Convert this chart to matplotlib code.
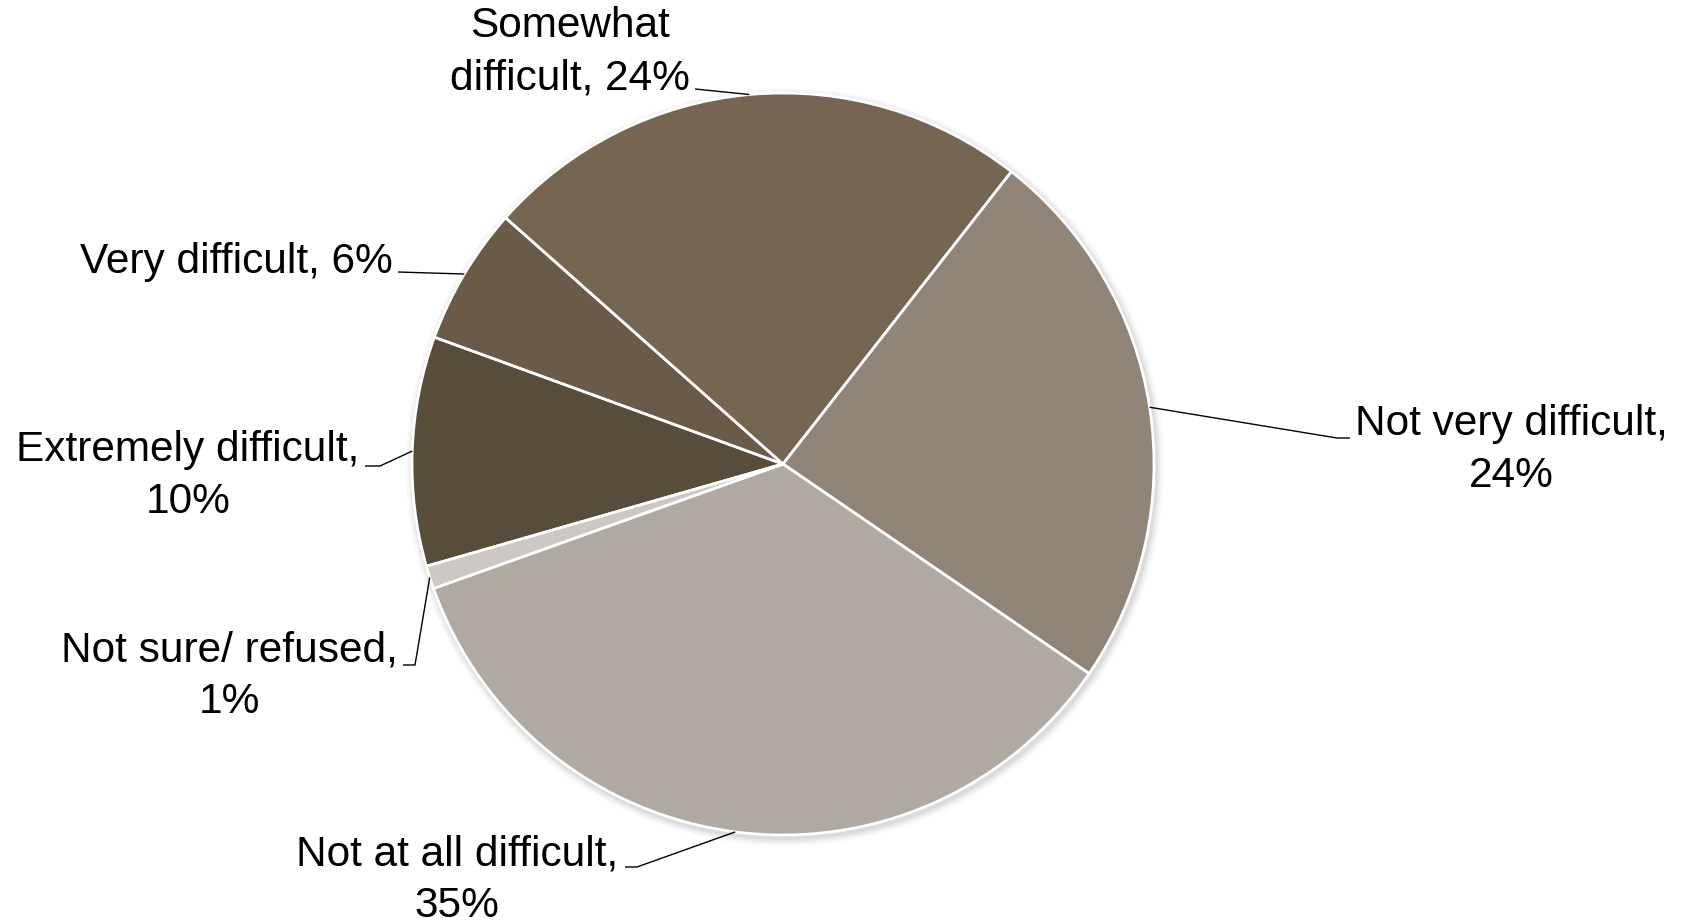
import matplotlib.pyplot as plt
import numpy as np

plt.rcParams['font.family'] = ['Liberation Sans', 'DejaVu Sans']

# data (clockwise order, as in the source chart)
categories = ['Extremely difficult', 'Very difficult', 'Somewhat difficult',
              'Not very difficult', 'Not at all difficult', 'Not sure/ refused']
shares = [10, 6, 24, 24, 35, 1]
label_texts = ['Extremely difficult,\n10%', 'Very difficult, 6%', 'Somewhat\ndifficult, 24%',
               'Not very difficult,\n24%', 'Not at all difficult,\n35%', 'Not sure/ refused,\n1%']
colors = ['#5A4C3B', '#6B5A47', '#766550', '#918375', '#B0A9A2', '#CDC8C3']

W, H = 1684, 921
cx, cy, r = 783, H - 464, 371

# label layout in pixel coords (y measured from top): text anchor x, last-line baseline y, ha,
# and the points of the leader line from the text towards the pie
label_pos = [(188, 513, 'center'), (236, 273, 'center'), (570, 89, 'center'),
             (1511, 487, 'center'), (457, 917, 'center'), (229, 713, 'center')]
leader_pts = [[(365, 466), (380, 466)],
              [(398, 272)],
              [(695, 89)],
              [(1350, 438), (1337, 438)],
              [(625, 867), (637, 867)],
              [(403, 665), (415, 665)]]

fig = plt.figure(figsize=(W / 100, H / 100), dpi=100)
ax = fig.add_axes([0, 0, 1, 1])

wedges, _ = ax.pie(shares, colors=colors, startangle=196, counterclock=False,
                   center=(cx, cy), radius=r,
                   wedgeprops=dict(edgecolor='white', linewidth=2))

# soft shadow under the pie
for k, a in enumerate([0.05, 0.04, 0.03, 0.02]):
    sh = plt.Circle((cx + 2, cy - 3), r + 2 + 2 * k, color='black', alpha=a,
                    lw=0, zorder=0)
    ax.add_patch(sh)

for w, txt, (tx, ty, ha), pts in zip(wedges, label_texts, label_pos, leader_pts):
    ang = np.deg2rad((w.theta1 + w.theta2) / 2)
    ex, ey = cx + r * np.cos(ang), cy + r * np.sin(ang)
    xs = [p[0] for p in pts] + [ex]
    ys = [H - p[1] for p in pts] + [ey]
    ax.plot(xs, ys, color='black', lw=1.0, solid_capstyle='butt', zorder=3)
    ax.text(tx, H - ty, txt, ha=ha, va='baseline', fontsize=30.5,
            linespacing=1.38, color='black')

ax.set_xlim(0, W)
ax.set_ylim(0, H)
ax.set_aspect('equal')
ax.axis('off')

fig.savefig('out.png', dpi=100, facecolor='white')
